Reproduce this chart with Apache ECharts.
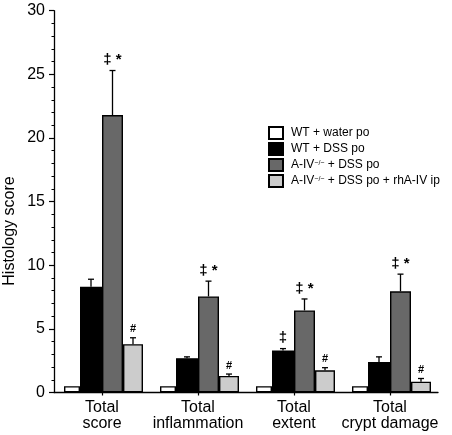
<!DOCTYPE html>
<html>
<head>
<meta charset="utf-8">
<script src="https://cdn.jsdelivr.net/npm/echarts@6/dist/echarts.min.js"></script>
<style>html,body{margin:0;padding:0;background:#fff;}#c{width:452px;height:435px;}</style>
</head>
<body>
<div id="c"></div>
<script>
// ---- data ----
const categories = ['Total\nscore', 'Total\ninflammation', 'Total\nextent', 'Total\ncrypt damage'];
const seriesNames = ['WT + water po', 'WT + DSS po', 'A-IV−/− + DSS po', 'A-IV−/− + DSS po + rhA-IV ip'];
const wtWater = [0.5, 0.5, 0.5, 0.5];
const wtDss = [8.3, 2.7, 3.3, 2.4];
const aivDss = [21.8, 7.55, 6.45, 7.95];
const aivRh = [3.8, 1.3, 1.75, 0.85];
// upper end of error bar (mean + SEM)
const wtWaterErr = [null, null, null, null];
const wtDssErr = [8.9, 2.8, 3.45, 2.8];
const aivDssErr = [25.3, 8.75, 7.35, 9.3];
const aivRhErr = [4.3, 1.45, 1.95, 1.1];
// significance marks
const wtWaterMark = ['', '', '', ''];
const wtDssMark = ['', '', '‡', ''];
const aivDssMark = ['‡ *', '‡ *', '‡ *', '‡ *'];
const aivRhMark = ['#', '#', '#', '#'];
const yTicks = [0, 5, 10, 15, 20, 25, 30];

// ---- style ----
const FONT = 'Liberation Sans, Arial, Helvetica, sans-serif';
const colors = ['#ffffff', '#000000', '#686868', '#cccccc'];
const spacerWidth = 3;
const barWidths = [16, 22, 21, 20];
const allWidths = [spacerWidth].concat(barWidths);
const total = allWidths.reduce((a, b) => a + b, 0);
const offsets = [];
{
  let acc = -total / 2;
  allWidths.forEach(w => { offsets.push(acc + w / 2); acc += w; });
}

const values = [wtWater, wtDss, aivDss, aivRh];
const errs = [wtWaterErr, wtDssErr, aivDssErr, aivRhErr];
const marks = [wtWaterMark, wtDssMark, aivDssMark, aivRhMark];

const series = [];
series.push({
  name: 'spacer', type: 'bar', barWidth: spacerWidth, barGap: 0, silent: true,
  data: categories.map(() => 0), itemStyle: { color: 'rgba(0,0,0,0)', borderWidth: 0 }
});
values.forEach((vals, i) => {
  series.push({
    name: seriesNames[i], type: 'bar', barWidth: barWidths[i], barGap: 0,
    data: vals,
    itemStyle: { color: colors[i], borderColor: '#000', borderWidth: 1.4 }
  });
});
values.forEach((vals, i) => {
  const off = offsets[i + 1];
  const mk = marks[i];
  series.push({
    name: 'err' + i, type: 'custom', z: 5, silent: true,
    data: vals.map((v, j) => [j, v, errs[i][j] == null ? v : errs[i][j]]),
    encode: { x: 0, y: [1, 2] },
    renderItem: function (params, api) {
      const x = api.coord([api.value(0), 0])[0] + off;
      const yb = api.coord([api.value(0), api.value(1)])[1];
      const ye = api.coord([api.value(0), api.value(2)])[1];
      const children = [];
      if (ye < yb - 0.5) {
        children.push({ type: 'line', shape: { x1: x, y1: yb, x2: x, y2: ye }, style: { stroke: '#000', lineWidth: 1.3 } });
        children.push({ type: 'line', shape: { x1: x - 3, y1: ye, x2: x + 3, y2: ye }, style: { stroke: '#000', lineWidth: 1.3 } });
      }
      const t = mk[params.dataIndex];
      if (t) {
        const isHash = t === '#';
        children.push({
          type: 'text', x: x, y: ye - 3,
          style: {
            text: t, x: 0, y: 0, align: 'center', verticalAlign: 'bottom',
            font: (isHash ? 'bold 11px ' : 'bold 15px ') + FONT, fill: '#000'
          }
        });
      }
      return { type: 'group', children: children };
    }
  });
});

const chart = echarts.init(document.getElementById('c'), null, { renderer: 'canvas' });
chart.setOption({
  animation: false,
  backgroundColor: '#fff',
  grid: { left: 54, right: 14, top: 10.7, bottom: 42.5, containLabel: false },
  legend: {
    data: seriesNames,
    orient: 'vertical', left: 268, top: 126, padding: 0,
    itemWidth: 14, itemHeight: 12, itemGap: 2,
    icon: 'rect', selectedMode: false,
    textStyle: {
      fontFamily: FONT, fontSize: 12, color: '#000', padding: [0, 0, 0, 3], lineHeight: 13,
      rich: {
        n: { fontFamily: FONT, fontSize: 12, color: '#000', lineHeight: 13 },
        s: { fontFamily: FONT, fontSize: 7, color: '#000', padding: [0, 0, 4, 0], lineHeight: 8 }
      }
    },
    formatter: function (name) {
      if (name.indexOf('−/−') >= 0) {
        const p = name.split('−/−');
        return '{n|' + p[0] + '}{s|−/−}{n|' + p[1] + '}';
      }
      return '{n|' + name + '}';
    }
  },
  xAxis: {
    type: 'category', data: categories,
    axisLine: { lineStyle: { color: '#000', width: 1.3 } },
    axisTick: { show: true, alignWithLabel: true, length: 3, lineStyle: { color: '#000', width: 1.2 } },
    axisLabel: { fontFamily: FONT, fontSize: 16, color: '#000', margin: 7, lineHeight: 16, interval: 0 }
  },
  yAxis: {
    type: 'value', min: 0, max: 30, interval: 5,
    splitLine: { show: false },
    axisLine: { show: true, lineStyle: { color: '#000', width: 1.3 } },
    axisTick: { show: true, length: 5, lineStyle: { color: '#000', width: 1.2 } },
    minorTick: { show: true, splitNumber: 5, length: 2.5, lineStyle: { color: '#000', width: 1 } },
    axisLabel: {
      fontFamily: FONT, fontSize: 16, color: '#000', margin: 9,
      formatter: v => (yTicks.indexOf(v) >= 0 ? String(v) : '')
    }
  },
  graphic: [{
    type: 'text', x: 10, y: 231, rotation: Math.PI / 2,
    style: { text: 'Histology score', align: 'center', verticalAlign: 'middle', font: '16px ' + FONT, fill: '#000' }
  }],
  series: series
});
</script>
</body>
</html>
